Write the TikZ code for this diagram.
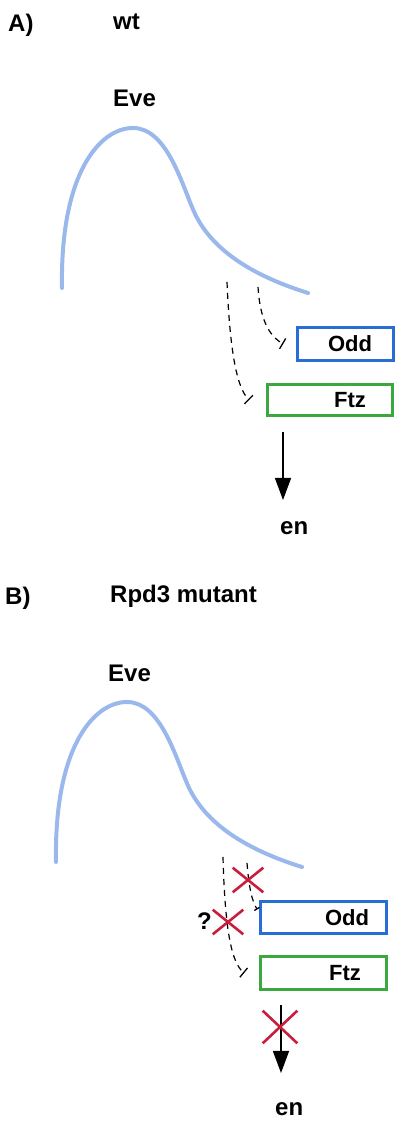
\documentclass[tikz,border=0pt]{standalone}
\usepackage{fontspec}
\setmainfont{Liberation Sans}
\usepackage{xcolor}
\usetikzlibrary{arrows.meta,shapes.misc}

\definecolor{evecol}{RGB}{155,184,236}
\definecolor{oddblue}{RGB}{40,108,214}
\definecolor{ftzgreen}{RGB}{58,168,62}
\definecolor{xred}{RGB}{200,30,60}

\begin{document}
\begin{tikzpicture}[
	x=1pt, y=1pt,
	>=Stealth,
	lbl/.style={
		font=\fontsize{24}{28}\selectfont\bfseries,
		inner sep=0pt, anchor=base west
	},
	genebox/.style={
		rectangle, draw, line width=2.6pt,
		inner sep=0pt, minimum height=34pt,
		font=\fontsize{22}{26}\selectfont\bfseries
	},
	evecurve/.style={line width=4pt, draw=evecol, line cap=round},
	repress/.style={-{Bar[width=#1,line width=1.3pt]}, line width=1.2pt, dash pattern=on 6pt off 5pt},
	repress/.default=12pt,
	actarrow/.style={-{Triangle[length=22pt,width=16pt]}, line width=1.4pt},
	crossmark/.style={
		cross out, draw=xred, line width=2.6pt,
		minimum width=28pt, minimum height=22pt, inner sep=0pt
	}
	]
	\useasboundingbox (0,0) rectangle (400,1123);
	%% ─── PANEL A: WILD TYPE ──────────────────────────────────
	\node[lbl] (headA) at (8,1091)   {A)};
	\node[lbl] (condA) at (113,1093) {wt};
	\node[lbl] (eveA)  at (113,1016) {Eve};
	
	\draw[evecurve] (62,835) .. controls (60,950) and (100,995) .. (133,995)
	.. controls (165,995) and (180,945) .. (192,916)
	.. controls (210,870) and (260,845) .. (308,830);
	
	\node[genebox, draw=oddblue, minimum width=96pt, minimum height=33pt] (oddA) at (345.5,779) {\hspace*{9pt}Odd};
	\node[genebox, draw=ftzgreen, minimum width=125pt, minimum height=31pt] (ftzA) at (330,723) {\hspace*{40pt}Ftz};
	
	\coordinate (sOddA) at (258,836);
	\coordinate (sFtzA) at (227,841);
	\draw[repress] (sOddA) .. controls (260,805) and (268,788) .. ([xshift=-13pt]oddA.west);
	\draw[repress] (sFtzA) .. controls (230,770) and (237,735) .. ([xshift=-17pt]ftzA.west);
	
	\coordinate (baseA) at (283,691);
	\coordinate (tipA)  at (283,623);
	\draw[actarrow] (baseA) -- (tipA);
	\node[lbl] (enA) at (280,588) {en};
	
	%% ─── PANEL B: RPD3 MUTANT ──────────────────────────────────
	\node[lbl] (headB) at (5,518)   {B)};
	\node[lbl] (condB) at (110,520) {Rpd3 mutant};
	\node[lbl] (eveB)  at (108,441) {Eve};
	
	\begin{scope}[shift={(-6pt,-574pt)}]
		\draw[evecurve] (62,835) .. controls (60,950) and (100,995) .. (133,995)
		.. controls (165,995) and (180,945) .. (192,916)
		.. controls (210,870) and (260,845) .. (308,830);
	\end{scope}
	
	\node[genebox, draw=oddblue, minimum width=126pt, minimum height=32pt] (oddB) at (323.5,205.5) {\hspace*{47pt}Odd};
	\node[genebox, draw=ftzgreen, minimum width=126pt, minimum height=33pt] (ftzB) at (323.5,150) {\hspace*{43pt}Ftz};
	
	\coordinate (sOddB) at (247,260);
	\coordinate (sFtzB) at (223,266);
	\draw[repress=6pt] (sOddB) .. controls (249,235) and (252,222) .. ([xshift=-2pt,yshift=8pt]oddB.west);
	\draw[repress] (sFtzB) .. controls (225,190) and (232,160) .. ([xshift=-15pt]ftzB.west);
	
	\node[crossmark] (xOdd) at (248,243) {};
	\node[crossmark] (xFtz) at (228,201) {};
	\node[lbl] (query) at (197,193) {?};
	
	\coordinate (baseB) at (281,118);
	\coordinate (tipB)  at (281,50);
	\draw[actarrow] (baseB) -- (tipB);
	\node[crossmark, minimum width=32pt, minimum height=30pt] (xEn) at (280,96) {};
	\node[lbl] (enB) at (275,8) {en};
\end{tikzpicture}
\end{document}
